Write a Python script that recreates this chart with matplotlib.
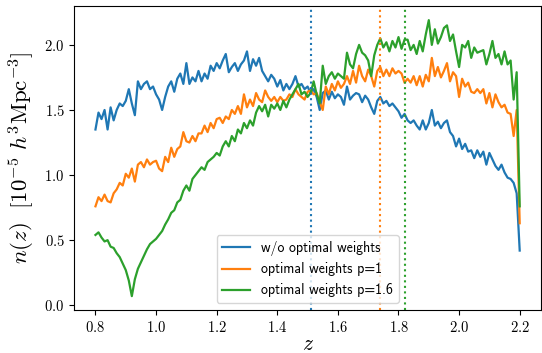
import numpy as np
import matplotlib
matplotlib.use('Agg')
import matplotlib.pyplot as plt

plt.rcParams['mathtext.fontset'] = 'cm'
plt.rcParams['font.family'] = 'cmr10'
plt.rcParams['axes.formatter.use_mathtext'] = True

# redshift bins 0.80 ... 2.20
z = np.round(np.arange(0.80, 2.2001, 0.01), 2)

# n(z) without optimal weights
n_plain = [
    1.35, 1.48, 1.43, 1.50, 1.35, 1.52, 1.42, 1.50, 1.55, 1.53,
    1.57, 1.66, 1.55, 1.46, 1.72, 1.66, 1.70, 1.72, 1.66, 1.68,
    1.62, 1.58, 1.50, 1.60, 1.68, 1.72, 1.64, 1.74, 1.78, 1.70,
    1.86, 1.70, 1.75, 1.72, 1.80, 1.72, 1.78, 1.74, 1.84, 1.80,
    1.86, 1.82, 1.88, 1.93, 1.79, 1.83, 1.86, 1.80, 1.85, 1.88,
    1.95, 1.80, 1.89, 1.84, 1.90, 1.80, 1.76, 1.72, 1.77, 1.74,
    1.68, 1.73, 1.65, 1.70, 1.66, 1.70, 1.76, 1.68, 1.70, 1.66,
    1.68, 1.63, 1.66, 1.60, 1.50, 1.63, 1.65, 1.58, 1.64, 1.59,
    1.62, 1.60, 1.54, 1.68, 1.58, 1.61, 1.63, 1.62, 1.56, 1.61,
    1.58, 1.52, 1.47, 1.57, 1.60, 1.55, 1.57, 1.53, 1.55, 1.52,
    1.49, 1.44, 1.47, 1.42, 1.40, 1.42, 1.38, 1.35, 1.42, 1.35,
    1.40, 1.50, 1.38, 1.41, 1.36, 1.40, 1.42, 1.33, 1.30, 1.22,
    1.28, 1.20, 1.24, 1.18, 1.19, 1.13, 1.19, 1.14, 1.18, 1.08,
    1.17, 1.12, 1.07, 1.04, 1.08, 1.02, 0.98, 0.97, 0.94, 0.86,
    0.42,
]

# optimal weights, p = 1
n_p1 = [
    0.76, 0.83, 0.80, 0.85, 0.80, 0.79, 0.86, 0.89, 0.94, 0.92,
    1.01, 0.98, 1.05, 0.95, 1.08, 1.10, 1.06, 1.12, 1.08, 1.10,
    1.11, 1.05, 1.03, 1.14, 1.10, 1.21, 1.14, 1.20, 1.22, 1.33,
    1.26, 1.25, 1.30, 1.26, 1.32, 1.32, 1.38, 1.33, 1.40, 1.36,
    1.43, 1.44, 1.40, 1.45, 1.43, 1.50, 1.47, 1.53, 1.47, 1.62,
    1.52, 1.58, 1.53, 1.63, 1.58, 1.56, 1.65, 1.60, 1.57, 1.60,
    1.56, 1.60, 1.57, 1.58, 1.62, 1.60, 1.66, 1.62, 1.60, 1.58,
    1.64, 1.65, 1.62, 1.63, 1.56, 1.50, 1.68, 1.62, 1.70, 1.65,
    1.72, 1.67, 1.70, 1.76, 1.70, 1.80, 1.71, 1.84, 1.76, 1.72,
    1.81, 1.76, 1.68, 1.80, 1.83, 1.76, 1.81, 1.76, 1.82, 1.78,
    1.80, 1.78, 1.71, 1.74, 1.71, 1.76, 1.69, 1.76, 1.68, 1.77,
    1.72, 1.90, 1.76, 1.83, 1.75, 1.80, 1.86, 1.72, 1.79, 1.76,
    1.60, 1.74, 1.68, 1.71, 1.64, 1.63, 1.66, 1.63, 1.66, 1.55,
    1.63, 1.52, 1.62, 1.56, 1.52, 1.54, 1.48, 1.47, 1.30, 1.50,
    0.63,
]

# optimal weights, p = 1.6
n_p16 = [
    0.54, 0.56, 0.52, 0.49, 0.50, 0.45, 0.44, 0.40, 0.37, 0.32,
    0.27, 0.19, 0.07, 0.20, 0.28, 0.33, 0.38, 0.43, 0.47, 0.49,
    0.51, 0.54, 0.57, 0.62, 0.66, 0.71, 0.73, 0.79, 0.81, 0.88,
    0.92, 0.88, 0.97, 1.00, 1.03, 1.06, 1.04, 1.10, 1.12, 1.14,
    1.17, 1.15, 1.22, 1.26, 1.22, 1.30, 1.26, 1.35, 1.32, 1.40,
    1.36, 1.42, 1.38, 1.48, 1.53, 1.49, 1.54, 1.45, 1.54, 1.51,
    1.55, 1.50, 1.57, 1.52, 1.58, 1.62, 1.66, 1.70, 1.62, 1.64,
    1.60, 1.63, 1.72, 1.62, 1.55, 1.84, 1.70, 1.76, 1.79, 1.74,
    1.78, 1.76, 1.74, 1.94, 1.85, 1.82, 1.93, 2.00, 1.94, 1.92,
    1.88, 1.76, 1.92, 2.00, 2.05, 1.98, 2.02, 1.95, 2.03, 1.98,
    2.06, 1.97, 2.04, 2.04, 1.96, 2.00, 1.93, 2.03, 1.95, 2.08,
    2.19, 2.00, 2.12, 2.01, 2.06, 2.13, 2.15, 2.03, 2.08, 1.95,
    1.83, 2.00, 1.98, 2.03, 1.90, 1.98, 1.94, 1.95, 1.96, 1.85,
    1.93, 2.03, 1.90, 1.93, 1.85, 1.95, 1.85, 1.88, 1.58, 1.79,
    0.76,
]

labels = ['w/o optimal weights', 'optimal weights p=1', 'optimal weights p=1.6']
z_eff = [1.51, 1.74, 1.82]
colors = ['C0', 'C1', 'C2']

fig, ax = plt.subplots(figsize=(5.42, 3.53), dpi=100)
fig.subplots_adjust(left=0.137, right=0.998, bottom=0.122, top=0.982)

for n, lab, c in zip([n_plain, n_p1, n_p16], labels, colors):
    ax.plot(z, n, color=c, lw=1.6, label=lab)
for ze, c in zip(z_eff, colors):
    ax.axvline(ze, color=c, ls=':', lw=1.5)

ax.set_xlabel(r'$z$', fontsize=15.5, labelpad=0)
ax.set_ylabel(r'$n(z)\ \ [10^{-5}\ h^3{\rm Mpc}^{-3}]$', fontsize=16.5, labelpad=6)
ax.tick_params(labelsize=10.5)

ax.legend(loc='lower center', prop={'family': 'cmss10', 'size': 10})

plt.savefig('out.png', dpi=100)
